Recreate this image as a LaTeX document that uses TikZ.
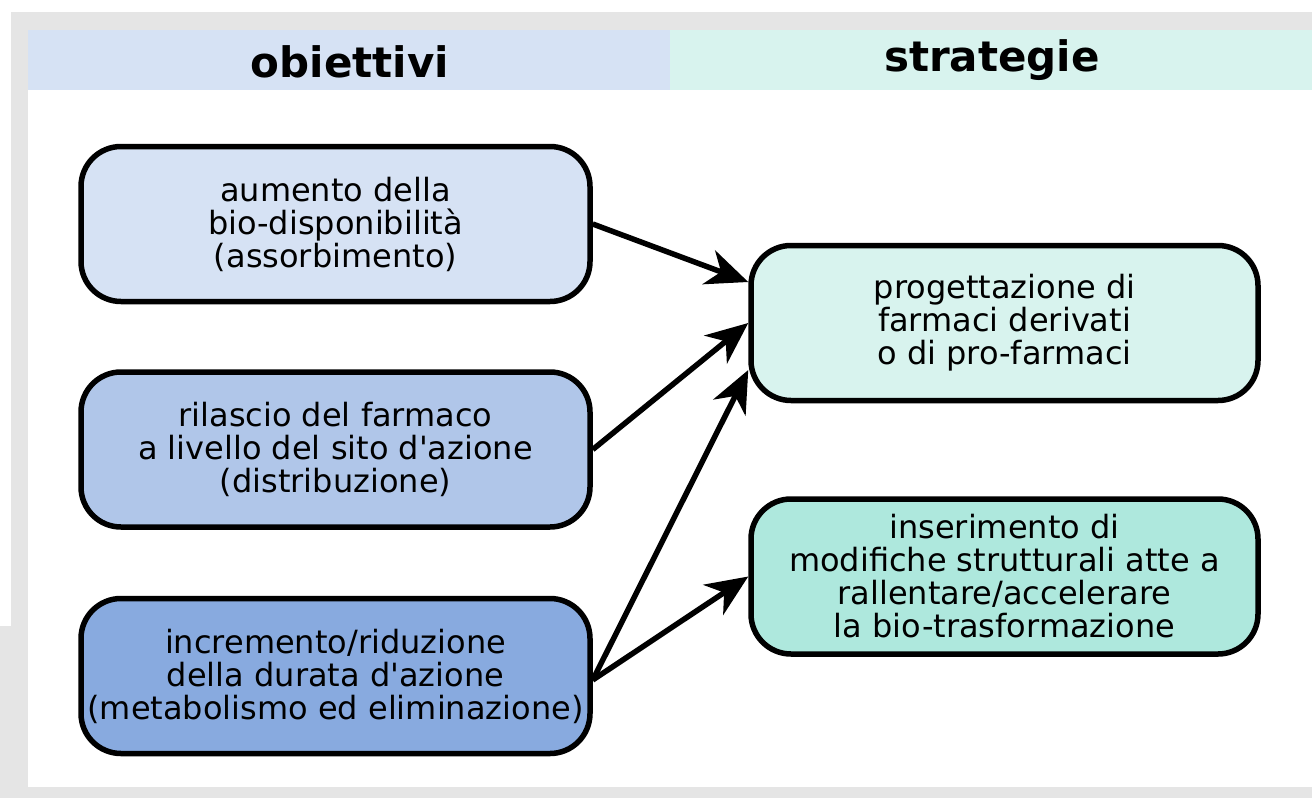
\documentclass[tikz,border=0pt]{standalone}
\usepackage{fontspec}
\setmainfont{DejaVu Sans}[Ligatures=TeXOff]
\usetikzlibrary{arrows.meta, positioning}
\definecolor{FrameGray}{HTML}{E5E5E5}
\definecolor{Goal_Light}{HTML}{D6E2F4}
\definecolor{Goal_Mid}{HTML}{B0C6E9}
\definecolor{Goal_Dark}{HTML}{88AADF}
\definecolor{Strat_Light}{HTML}{D8F3EE}
\definecolor{Strat_Dark}{HTML}{AEE8DD}

\begin{document}
\begin{tikzpicture}[
    x=1pt, y=-1pt,
    box/.style={minimum width=509pt, minimum height=155pt, draw=black, line width=5.5pt, rounded corners=40pt, align=center, font=\fontsize{32}{33}\selectfont, inner sep=0pt, anchor=center},
    head/.style={font=\bfseries\fontsize{42}{48}\selectfont, anchor=base},
    link/.style={-{Stealth[length=42pt, width=36pt, inset=13pt]}, line width=5.5pt}
]
\useasboundingbox (0,0) rectangle (1312,798);

% Frame and header bands
\fill[FrameGray] (11,12) rectangle (1312,798);
\fill[FrameGray] (0,626) rectangle (11,798);
\fill[white] (28,30) rectangle (1312,787);
\fill[Goal_Light] (28,30) rectangle (670,90);
\fill[Strat_Light] (670,30) rectangle (1312,90);
\node[head] (hGoal) at (350,77) {obiettivi};
\node[head] (hStrat) at (992,71) {strategie};

% Goals
\node[box, fill=Goal_Light] (goalA) at (335.5,224) {aumento della\\bio-disponibilità\\(assorbimento)};
\node[box, fill=Goal_Mid] (goalB) at (335.5,449.5) {rilascio del farmaco\\a livello del sito d'azione\\(distribuzione)};
\node[box, fill=Goal_Dark] (goalC) at (335.5,676) {incremento/riduzione\\della durata d'azione\\(metabolismo ed eliminazione)};

% Strategies
\node[box, fill=Strat_Light, minimum width=507pt] (stratA) at (1004.5,323) {progettazione di\\farmaci derivati\\o di pro-farmaci};
\node[box, fill=Strat_Dark, minimum width=507pt] (stratB) at (1004.5,576.5) {inserimento di\\modifiche strutturali atte a\\rallentare/accelerare\\la bio-trasformazione};

% Links
\draw[link] (goalA.east) -- ([yshift=41pt]stratA.west);
\draw[link] (goalB.east) -- (stratA.west);
\draw[link] ([yshift=-4pt]goalC.east) -- ([yshift=-47pt]stratA.west);
\draw[link] ([yshift=-4pt]goalC.east) -- (stratB.west);
\end{tikzpicture}
\end{document}
